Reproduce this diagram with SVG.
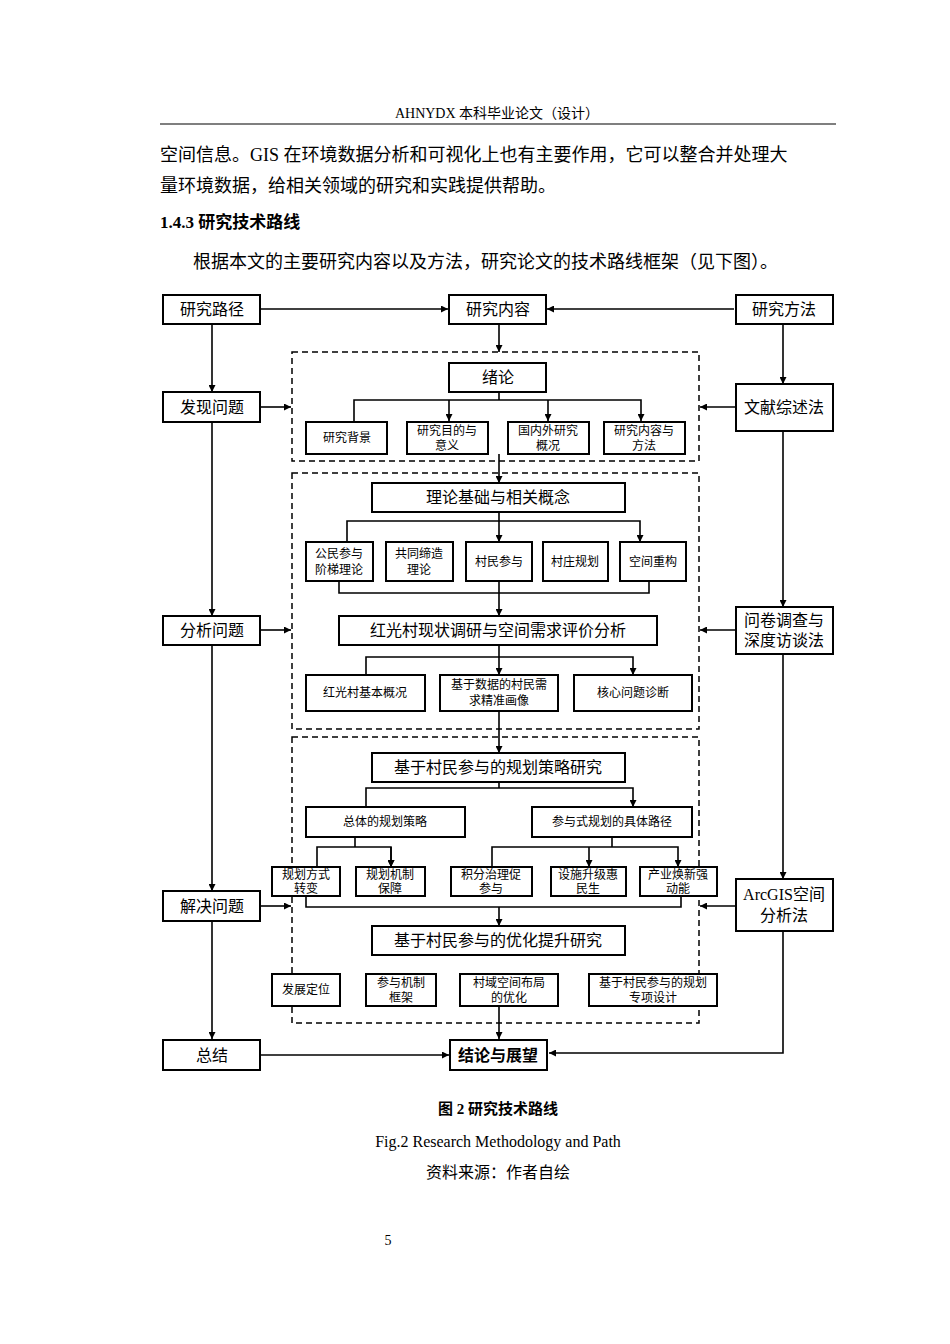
<svg xmlns="http://www.w3.org/2000/svg" width="950" height="1344" viewBox="0 0 950 1344">
<style>
text{font-family:"Liberation Serif","Noto Sans CJK SC",serif;fill:#000}
.b rect{fill:#fff;stroke:#000;stroke-width:2}
.l{font-size:16px}
.s{font-size:12px}
.m{font-size:13px}
.c line,.c path{stroke:#000;stroke-width:1.6;fill:none}
.d{fill:none;stroke:#000;stroke-width:1.5;stroke-dasharray:6,4}
</style>
<defs><marker id="a" viewBox="0 0 10 10" refX="10" refY="5" markerWidth="7" markerHeight="7" orient="auto" markerUnits="userSpaceOnUse"><path d="M0,0L10,5L0,10z" fill="#000"/></marker></defs>
<rect width="950" height="1344" fill="#fff"/>
<text x="497" y="118" text-anchor="middle" font-size="14">AHNYDX 本科毕业论文（设计）</text>
<line x1="160" y1="124" x2="836" y2="124" stroke="#000" stroke-width="1.2"/>
<text x="160" y="161" font-size="18">空间信息。GIS 在环境数据分析和可视化上也有主要作用，它可以整合并处理大</text>
<text x="160" y="192" font-size="18">量环境数据，给相关领域的研究和实践提供帮助。</text>
<text x="160" y="228" font-size="17" font-weight="bold">1.4.3 研究技术路线</text>
<text x="193" y="268" font-size="18">根据本文的主要研究内容以及方法，研究论文的技术路线框架（见下图）。</text>
<rect class="d" x="292" y="352" width="407" height="109"/>
<rect class="d" x="292" y="473" width="407" height="256"/>
<rect class="d" x="292" y="737" width="407" height="286"/>
<g class="c">
<line x1="261" y1="309" x2="448" y2="309" marker-end="url(#a)"/>
<line x1="734" y1="309" x2="547" y2="309" marker-end="url(#a)"/>
<line x1="499" y1="324" x2="499" y2="352" marker-end="url(#a)"/>
<line x1="212" y1="324" x2="212" y2="392" marker-end="url(#a)"/>
<line x1="212" y1="422" x2="212" y2="616" marker-end="url(#a)"/>
<line x1="212" y1="645" x2="212" y2="891" marker-end="url(#a)"/>
<line x1="212" y1="921" x2="212" y2="1039" marker-end="url(#a)"/>
<line x1="783" y1="324" x2="783" y2="384" marker-end="url(#a)"/>
<line x1="783" y1="431" x2="783" y2="607" marker-end="url(#a)"/>
<line x1="783" y1="654" x2="783" y2="879" marker-end="url(#a)"/>
<path d="M783,931V1053H549" marker-end="url(#a)"/>
<line x1="261" y1="1055" x2="449" y2="1055" marker-end="url(#a)"/>
<line x1="261" y1="407" x2="291" y2="407" marker-end="url(#a)"/>
<line x1="261" y1="630" x2="291" y2="630" marker-end="url(#a)"/>
<line x1="261" y1="906" x2="291" y2="906" marker-end="url(#a)"/>
<line x1="736" y1="407" x2="700" y2="407" marker-end="url(#a)"/>
<line x1="736" y1="630" x2="700" y2="630" marker-end="url(#a)"/>
<line x1="736" y1="906" x2="700" y2="906" marker-end="url(#a)"/>
<path d="M499,392V400M354,421V400H641V421" marker-end="url(#a)"/>
<line x1="449" y1="400" x2="449" y2="421" marker-end="url(#a)"/>
<line x1="548" y1="400" x2="548" y2="421" marker-end="url(#a)"/>
<line x1="499" y1="454" x2="499" y2="483" marker-end="url(#a)"/>
<path d="M499,512V521M347,542V521H640V542" marker-end="url(#a)"/>
<line x1="499" y1="521" x2="499" y2="542" marker-end="url(#a)"/>
<path d="M339,581V593H649V581M499,581V593"/>
<line x1="499" y1="593" x2="499" y2="616" marker-end="url(#a)"/>
<path d="M499,645V657M366,675V657H633V675" marker-end="url(#a)"/>
<line x1="499" y1="657" x2="499" y2="675" marker-end="url(#a)"/>
<line x1="499" y1="711" x2="499" y2="753" marker-end="url(#a)"/>
<path d="M499,782V788M366,807V788H633V807" marker-end="url(#a)"/>
<path d="M355,837V847M317,867V847H391V867" marker-end="url(#a)"/>
<line x1="391" y1="847" x2="391" y2="867" marker-end="url(#a)"/>
<path d="M612,837V847M492,867V847H678V867" marker-end="url(#a)"/>
<line x1="589" y1="847" x2="589" y2="867" marker-end="url(#a)"/>
<path d="M306,896V907H681V896"/>
<line x1="499" y1="907" x2="499" y2="926" marker-end="url(#a)"/>
<line x1="499" y1="1006" x2="499" y2="1039" marker-end="url(#a)"/>
</g>
<g class="b">
<g id="n1"><rect x="163" y="295" width="97" height="29"/><text class="l" x="212" y="315" text-anchor="middle">研究路径</text></g>
<g id="n2"><rect x="449" y="295" width="97" height="29"/><text class="l" x="498" y="315" text-anchor="middle">研究内容</text></g>
<g id="n3"><rect x="736" y="295" width="97" height="29"/><text class="l" x="784" y="315" text-anchor="middle">研究方法</text></g>
<g id="n4"><rect x="163" y="392" width="97" height="30"/><text class="l" x="212" y="413" text-anchor="middle">发现问题</text></g>
<g id="n5"><rect x="163" y="616" width="97" height="29"/><text class="l" x="212" y="636" text-anchor="middle">分析问题</text></g>
<g id="n6"><rect x="163" y="891" width="97" height="30"/><text class="l" x="212" y="912" text-anchor="middle">解决问题</text></g>
<g id="n7"><rect x="163" y="1040" width="97" height="30"/><text class="l" x="212" y="1061" text-anchor="middle">总结</text></g>
<g id="n8"><rect x="736" y="384" width="97" height="47"/><text class="l" x="784" y="413" text-anchor="middle">文献综述法</text></g>
<g id="n9"><rect x="736" y="607" width="97" height="47"/><text class="l" x="784" y="626" text-anchor="middle">问卷调查与</text><text class="l" x="784" y="646" text-anchor="middle">深度访谈法</text></g>
<g id="n10"><rect x="736" y="879" width="97" height="52"/><text class="l" x="784" y="900" text-anchor="middle">ArcGIS空间</text><text class="l" x="784" y="921" text-anchor="middle">分析法</text></g>
<g id="n11"><rect x="449" y="363" width="97" height="29"/><text class="l" x="498" y="383" text-anchor="middle">绪论</text></g>
<g id="n12"><rect x="306" y="422" width="81" height="32"/><text class="s" x="347" y="442" text-anchor="middle">研究背景</text></g>
<g id="n13"><rect x="407" y="422" width="81" height="32"/><text class="s" x="447" y="435" text-anchor="middle">研究目的与</text><text class="s" x="447" y="450" text-anchor="middle">意义</text></g>
<g id="n14"><rect x="508" y="422" width="81" height="32"/><text class="s" x="548" y="435" text-anchor="middle">国内外研究</text><text class="s" x="548" y="450" text-anchor="middle">概况</text></g>
<g id="n15"><rect x="604" y="422" width="81" height="32"/><text class="s" x="644" y="435" text-anchor="middle">研究内容与</text><text class="s" x="644" y="450" text-anchor="middle">方法</text></g>
<g id="n16"><rect x="372" y="483" width="253" height="29"/><text class="l" x="498" y="503" text-anchor="middle">理论基础与相关概念</text></g>
<g id="n17"><rect x="306" y="542" width="67" height="39"/><text class="s" x="339" y="558" text-anchor="middle">公民参与</text><text class="s" x="339" y="574" text-anchor="middle">阶梯理论</text></g>
<g id="n18"><rect x="386" y="542" width="67" height="39"/><text class="s" x="419" y="558" text-anchor="middle">共同缔造</text><text class="s" x="419" y="574" text-anchor="middle">理论</text></g>
<g id="n19"><rect x="466" y="542" width="66" height="39"/><text class="s" x="499" y="566" text-anchor="middle">村民参与</text></g>
<g id="n20"><rect x="543" y="542" width="65" height="39"/><text class="s" x="575" y="566" text-anchor="middle">村庄规划</text></g>
<g id="n21"><rect x="620" y="542" width="66" height="39"/><text class="s" x="653" y="566" text-anchor="middle">空间重构</text></g>
<g id="n22"><rect x="339" y="616" width="318" height="29"/><text class="l" x="498" y="636" text-anchor="middle">红光村现状调研与空间需求评价分析</text></g>
<g id="n23"><rect x="306" y="675" width="119" height="36"/><text class="s" x="365" y="697" text-anchor="middle">红光村基本概况</text></g>
<g id="n24"><rect x="440" y="675" width="118" height="36"/><text class="s" x="499" y="689" text-anchor="middle">基于数据的村民需</text><text class="s" x="499" y="705" text-anchor="middle">求精准画像</text></g>
<g id="n25"><rect x="574" y="675" width="118" height="36"/><text class="s" x="633" y="697" text-anchor="middle">核心问题诊断</text></g>
<g id="n26"><rect x="372" y="753" width="253" height="29"/><text class="l" x="498" y="773" text-anchor="middle">基于村民参与的规划策略研究</text></g>
<g id="n27"><rect x="306" y="807" width="159" height="30"/><text class="s" x="385" y="826" text-anchor="middle">总体的规划策略</text></g>
<g id="n28"><rect x="532" y="807" width="160" height="30"/><text class="s" x="612" y="826" text-anchor="middle">参与式规划的具体路径</text></g>
<g id="n29"><rect x="272" y="867" width="68" height="29"/><text class="s" x="306" y="879" text-anchor="middle">规划方式</text><text class="s" x="306" y="893" text-anchor="middle">转变</text></g>
<g id="n30"><rect x="356" y="867" width="69" height="29"/><text class="s" x="390" y="879" text-anchor="middle">规划机制</text><text class="s" x="390" y="893" text-anchor="middle">保障</text></g>
<g id="n31"><rect x="451" y="867" width="81" height="29"/><text class="s" x="491" y="879" text-anchor="middle">积分治理促</text><text class="s" x="491" y="893" text-anchor="middle">参与</text></g>
<g id="n32"><rect x="551" y="867" width="75" height="29"/><text class="s" x="588" y="879" text-anchor="middle">设施升级惠</text><text class="s" x="588" y="893" text-anchor="middle">民生</text></g>
<g id="n33"><rect x="640" y="867" width="77" height="29"/><text class="s" x="678" y="879" text-anchor="middle">产业焕新强</text><text class="s" x="678" y="893" text-anchor="middle">动能</text></g>
<g id="n34"><rect x="372" y="926" width="253" height="29"/><text class="l" x="498" y="946" text-anchor="middle">基于村民参与的优化提升研究</text></g>
<g id="n35"><rect x="272" y="974" width="68" height="32"/><text class="s" x="306" y="994" text-anchor="middle">发展定位</text></g>
<g id="n36"><rect x="366" y="974" width="70" height="32"/><text class="s" x="401" y="987" text-anchor="middle">参与机制</text><text class="s" x="401" y="1002" text-anchor="middle">框架</text></g>
<g id="n37"><rect x="460" y="974" width="98" height="32"/><text class="s" x="509" y="987" text-anchor="middle">村域空间布局</text><text class="s" x="509" y="1002" text-anchor="middle">的优化</text></g>
<g id="n38"><rect x="589" y="974" width="128" height="32"/><text class="s" x="653" y="987" text-anchor="middle">基于村民参与的规划</text><text class="s" x="653" y="1002" text-anchor="middle">专项设计</text></g>
<g id="n39"><rect x="450" y="1040" width="97" height="30"/><text x="498" y="1061" text-anchor="middle" font-size="16" font-weight="bold">结论与展望</text></g>
</g>
<text x="498" y="1114" text-anchor="middle" font-size="15" font-weight="bold">图 2 研究技术路线</text>
<text x="498" y="1147" text-anchor="middle" font-size="16">Fig.2  Research Methodology and Path</text>
<text x="498" y="1178" text-anchor="middle" font-size="16">资料来源：作者自绘</text>
<text x="388" y="1245" text-anchor="middle" font-size="14">5</text>
</svg>
